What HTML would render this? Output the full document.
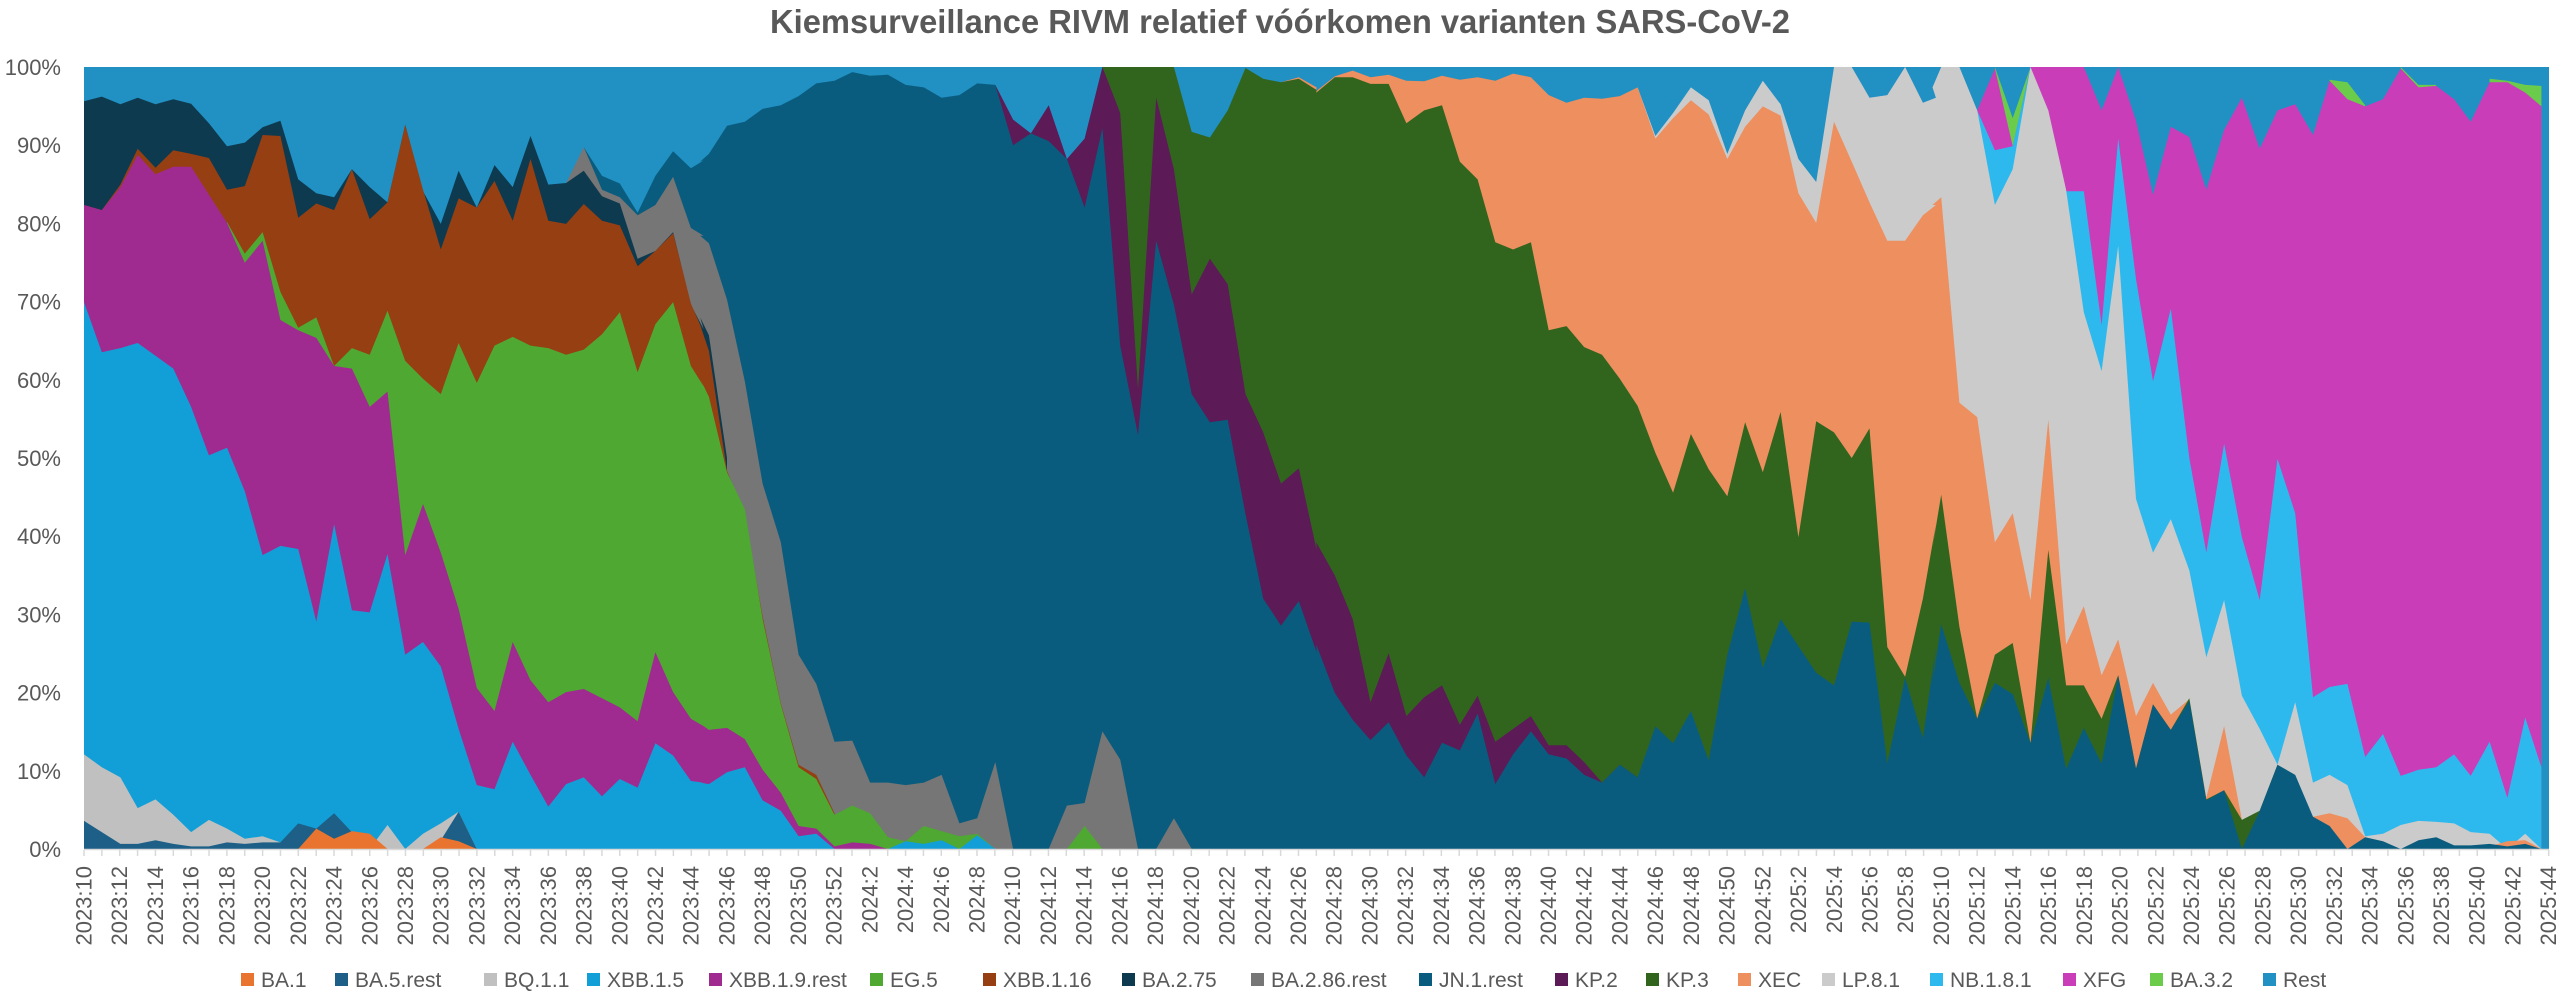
<!DOCTYPE html>
<html><head><meta charset="utf-8">
<style>
html,body{margin:0;padding:0;background:#fff;}
body{width:2560px;height:993px;overflow:hidden;}
svg{display:block;}
text{font-family:"Liberation Sans",sans-serif;fill:#595959;}
</style></head>
<body>
<svg id="c" width="2560" height="993" viewBox="0 0 2560 993" xmlns="http://www.w3.org/2000/svg">
<rect x="0" y="0" width="2560" height="993" fill="#fff"/>
<text x="1280" y="33" text-anchor="middle" font-size="33" font-weight="bold" textLength="1020" lengthAdjust="spacingAndGlyphs">Kiemsurveillance RIVM relatief vóórkomen varianten SARS-CoV-2</text>
<rect x="84" y="67" width="2465" height="782" fill="#2190c3"/>
<g id="areas"></g>
<line x1="84" y1="849.5" x2="2549" y2="849.5" stroke="#d9d9d9" stroke-width="1.5"/>
<g id="ticks"></g>
<g id="ylab"></g>
<g id="xlab"></g>
<g id="legend"></g>
</svg>
<script>
var X0=84,STEP=17.86,YB=849,YS=7.82;
var OFF={3:0,4:34.5,5:69.0,6:103.5};
function conv(s){
  var pts=[],p=3;
  s.trim().split(/\s+/).forEach(function(t){
    if(t[0]=='P'){p=+t.slice(1);return;}
    var a=t.split(',');var i=OFF[p]+(+a[0])/45.2;var pct=(1545-(+a[1]))/15.3;
    if(pct<0)pct=0;if(pct>100)pct=100;
    pts.push([X0+i*STEP,YB-pct*YS]);
  });
  return pts;
}
var layers=[
["#6bcb4a","P6 158,15 203,115 248,15;P6 1005,40 1050,45 1095,90;P6 1185,15 1230,50 1275,50;P6 1410,38 1455,42 1500,50 1541,52"],
["#c93db8","P6 113,100 158,18 203,170 248,15 293,15 338,15 383,15 428,100 470,15 515,120 558,265 603,132 650,152 693,255 738,138 783,75 828,175 873,100 918,88 963,148 1005,42 1050,78 1095,92 1140,78 1185,18 1230,55 1275,52 1320,78 1362,122 1410,45 1455,45 1500,65 1541,92"],
["#2eb9ee","P6 113,100 158,178 203,170 248,15 293,258 338,258 383,258 428,520 470,155 515,430 558,630 603,488 650,780 693,965 738,752 783,935 828,1058 873,782 918,888 963,1248 1005,1228 1050,1222 1095,1365 1140,1320 1185,1402 1230,1390 1275,1385 1320,1360 1362,1402 1410,1335 1455,1445 1500,1288 1541,1385"],
["#cbcbcb","P5 813,55 858,150 903,105 948,55 993,80 1040,185 1085,100 1130,42 1175,88 1220,195 1265,240 1310,15 1355,15 1400,75 1445,70 1490,15 1535,85 1568,75 P6 0,55 22,15 68,15 113,100 158,285 203,215 248,15 293,100 338,255 383,495 428,610 470,365 515,860 558,965 603,900 650,1000 693,1170 738,1058 783,1245 828,1310 873,1380 918,1258 963,1415 1005,1400 1050,1420 1095,1520 1140,1515 1185,1498 1230,1490 1275,1492 1320,1495 1362,1512 1410,1515 1455,1545 1500,1515 1541,1545"],
["#ed8f5f","P4 1470,45 1515,35 1560,55 P5 0,62 47,33 92,22 137,35 183,30 228,42 273,43 318,32 363,40 408,35 453,42 498,28 543,35 588,70 633,85 678,75 723,77 768,72 813,55 858,155 903,115 948,80 993,108 1040,195 1085,132 1130,92 1175,110 1220,262 1265,320 1310,122 1355,200 1400,280 1445,355 1490,355 1535,305 1568,285 P6 0,285 22,270 68,672 113,700 158,945 203,888 248,1058 293,705 338,1145 383,1070 428,1205 470,1135 515,1285 558,1220 603,1282 650,1252 693,1445 738,1305 783,1488 828,1545;P6 918,1545 963,1482 1005,1475 1050,1485 1095,1522;P6 1410,1540 1455,1530 1500,1528 1541,1545"],
["#31651e","P4 1018,15 1063,15 1108,15 1154,15 1199,15 1244,142 1290,153 1335,100 1380,17 1425,38 1470,45 1515,38 1560,60 P5 0,65 47,35 92,35 137,48 183,48 228,125 273,100 318,90 363,200 408,235 453,358 498,372 543,358 588,530 633,522 678,563 723,578 768,625 813,678 858,770 903,848 948,733 993,802 1040,855 1085,710 1130,808 1175,690 1220,935 1265,708 1310,730 1355,780 1400,722 1445,1150 1490,1208 1535,1055 1568,910 P6 0,955 22,852 68,1110 113,1290 158,1165 203,1142 248,1338 293,960 338,1225 383,1225 428,1290 470,1205 515,1388 558,1262 603,1312 650,1250 693,1448 738,1430 783,1488 828,1470 873,1380"],
["#5c1a56","P4 747,50 792,118 837,145 882,90 928,195 973,155 1018,15 1063,105 1108,645 1154,75 1199,215 1244,460 1290,390 1335,440 1380,655 1425,730 1470,830 1515,800 1560,960 P5 0,945 47,1010 92,1095 137,1258 183,1162 228,1285 273,1248 318,1225 363,1302 408,1245 453,1335 498,1310 543,1285 588,1342 633,1342 678,1375 723,1415 768,1380 813,1405"],
["#0a5c7e","P3 1265,172 1311,228 1356,243 1401,300 1446,228 1491,180 1536,213 1568,198 P4 0,200 22,185 68,130 113,122 158,97 204,90 249,72 294,47 340,42 385,25 430,32 475,30 520,50 566,55 611,75 656,70 701,47 747,50 792,168 837,145 882,160 928,195 973,290 1018,135 1063,560 1108,735 1154,355 1199,480 1244,655 1290,710 1335,705 1380,890 1425,1055 1470,1108 1515,1060 1560,1160 P5 0,1145 47,1240 92,1292 137,1332 183,1297 228,1362 273,1405 318,1337 363,1352 408,1280 453,1418 498,1360 543,1315 588,1360 633,1368 678,1400 723,1415 768,1380 813,1405 858,1305 903,1338 948,1275 993,1372 1040,1165 1085,1035 1130,1190 1175,1095 1220,1148 1265,1200 1310,1225 1355,1100 1400,1102 1445,1378 1490,1210 1535,1328 1568,1150 P6 0,1220 22,1105 68,1220 113,1290 158,1220 203,1242 248,1338 293,1210 338,1388 383,1308 428,1378 470,1205 515,1388 558,1262 603,1312 650,1255 693,1450 738,1430 783,1545 828,1470 873,1380 918,1400 963,1482 1005,1500 1050,1545 1095,1522 1140,1530 1185,1545 1230,1528 1275,1522 1320,1538 1362,1538 1410,1535 1455,1540 1500,1535 1541,1545"],
["#767676","P3 1220,242 1265,172 1311,255 1356,270 1401,305 1446,285 1491,230 1536,330 1568,345 P4 0,345 22,360 68,470 113,630 158,830 204,945 249,1165 294,1222 340,1335 385,1333 430,1415 475,1415 520,1420 566,1415 611,1400 656,1495 701,1485 747,1375 792,1545;P4 882,1545 928,1460 973,1455 1018,1315 1063,1370 1108,1545;P4 1154,1545 1199,1485 1244,1545"],
["#0e3a4f","P3 0,82 45,73 92,88 136,75 181,88 226,78 271,87 316,125 362,170 407,163 452,133 497,120 542,235 588,262 633,270 678,215 723,250 768,280 813,128 858,258 903,322 948,218 994,290 1039,207 1085,250 1130,150 1175,245 1220,242 1265,218 1311,268 1356,282 1401,390 1446,375 1491,338 1536,480 1568,528 P4 0,505 22,540 68,780"],
["#963f12","P3 0,285 45,295 92,245 136,175 181,212 226,178 271,185 316,193 362,255 407,248 452,148 497,150 542,310 588,282 633,295 678,215 723,313 768,280 813,128 858,255 903,372 948,272 994,290 1039,238 1085,316 1130,195 1175,316 1220,322 1265,283 1311,316 1356,325 1401,405 1446,375 1491,340 1536,478 1568,535 P4 0,520 22,570 68,805 113,890 158,1090 204,1260 249,1380 294,1400 340,1475"],
["#4ea832","P3 362,318 407,380 452,338 497,455 542,525 588,505 633,600 678,565 723,578 768,492 813,590 858,625 903,655 948,555 994,633 1039,560 1085,543 1130,560 1175,565 1220,578 1265,568 1311,538 1356,495 1401,612 1446,518 1491,475 1536,600 1568,640 P4 0,625 22,660 68,808 113,880 158,1095 204,1262 249,1385 294,1408 340,1478 385,1460 430,1475 475,1522 520,1530 566,1500 611,1510 656,1520 701,1515 747,1545;P4 928,1545 973,1500 1018,1545"],
["#a02b90","P3 0,285 45,295 92,250 136,187 181,225 226,210 271,210 316,265 362,320 407,398 452,355 497,510 542,530 588,545 633,600 678,605 723,680 768,650 813,970 858,870 903,965 948,1075 994,1230 1039,1275 1085,1140 1130,1215 1175,1258 1220,1238 1265,1232 1311,1250 1356,1268 1401,1295 1446,1160 1491,1238 1536,1290 1568,1305 P4 0,1300 22,1312 68,1308 113,1330 158,1390 204,1435 249,1500 294,1505 340,1540 385,1532 430,1535 475,1545"],
["#129fd7","P3 0,475 45,573 92,565 136,555 181,580 226,605 271,680 316,775 362,760 407,845 452,970 497,952 542,958 588,1100 633,910 678,1078 723,1082 768,968 813,1165 858,1140 903,1188 948,1310 994,1420 1039,1428 1085,1335 1130,1400 1175,1462 1220,1418 1265,1405 1311,1442 1356,1408 1401,1425 1446,1338 1491,1362 1536,1412 1568,1415 P4 0,1415 22,1418 68,1395 113,1385 158,1450 204,1470 249,1520 294,1515 340,1545 385,1545 430,1545 475,1545 520,1530 566,1535 611,1528 656,1545 701,1518 747,1545"],
["#c0c0c0","P3 0,1360 45,1385 92,1405 136,1465 181,1448 226,1478 271,1512 316,1488 362,1505 407,1525 452,1520 497,1532 542,1530 588,1545;P3 723,1545 768,1498 813,1545 858,1515 903,1495 948,1472 994,1545"],
["#1d5f86","P3 0,1490 45,1512 92,1535 136,1535 181,1528 226,1535 271,1540 316,1540 362,1532 407,1535 452,1532 497,1532 542,1495 588,1505 633,1475 678,1512 723,1518 768,1545;P3 858,1545 903,1528 948,1472 994,1545"],
["#e8742f","P3 452,1545 542,1545 588,1505 633,1525 678,1510 723,1515 768,1545;P3 858,1545 903,1522 948,1530 994,1545"]
];
var NS="http://www.w3.org/2000/svg";
var g=document.getElementById('areas');
layers.forEach(function(L){
  L[1].split(';').forEach(function(seg){
    var pts=conv(seg);
    if(!pts.length)return;
    var d='M'+pts[0][0].toFixed(1)+','+YB+' ';
    pts.forEach(function(p){d+='L'+p[0].toFixed(1)+','+p[1].toFixed(1)+' ';});
    d+='L'+pts[pts.length-1][0].toFixed(1)+','+YB+' Z';
    var e=document.createElementNS(NS,'path');
    e.setAttribute('d',d);e.setAttribute('fill',L[0]);
    g.appendChild(e);
  });
});
// ticks & x labels
var tg=document.getElementById('ticks'),xg=document.getElementById('xlab');
var labs=[];
for(var w=10;w<=52;w++)labs.push('2023:'+w);
for(var w=1;w<=52;w++)labs.push('2024:'+w);
for(var w=1;w<=44;w++)labs.push('2025:'+w);
for(var i=0;i<labs.length;i++){
  var x=X0+i*STEP;
  var l=document.createElementNS(NS,'line');
  l.setAttribute('x1',x);l.setAttribute('x2',x);l.setAttribute('y1',850);l.setAttribute('y2',856);
  l.setAttribute('stroke','#d9d9d9');l.setAttribute('stroke-width','1.5');tg.appendChild(l);
  if(i%2==0){
    var t=document.createElementNS(NS,'text');
    t.setAttribute('transform','translate('+(x+7.5).toFixed(1)+',866) rotate(-90)');
    t.setAttribute('text-anchor','end');t.setAttribute('font-size','22');
    t.textContent=labs[i];xg.appendChild(t);
  }
}
var yg=document.getElementById('ylab');
for(var p=0;p<=100;p+=10){
  var t=document.createElementNS(NS,'text');
  t.setAttribute('x',61);t.setAttribute('y',(YB-p*YS+8).toFixed(1));
  t.setAttribute('text-anchor','end');t.setAttribute('font-size','22');
  t.textContent=p+'%';yg.appendChild(t);
}
var leg=[["BA.1","#e8742f",241],["BA.5.rest","#1d5f86",335],["BQ.1.1","#c0c0c0",484],["XBB.1.5","#129fd7",587],["XBB.1.9.rest","#a02b90",709],["EG.5","#4ea832",870],["XBB.1.16","#963f12",983],["BA.2.75","#0e3a4f",1122],["BA.2.86.rest","#767676",1251],["JN.1.rest","#0a5c7e",1419],["KP.2","#5c1a56",1555],["KP.3","#31651e",1646],["XEC","#ed8f5f",1738],["LP.8.1","#cbcbcb",1822],["NB.1.8.1","#2eb9ee",1930],["XFG","#c93db8",2063],["BA.3.2","#6bcb4a",2150],["Rest","#2190c3",2263]];
var lg=document.getElementById('legend');
leg.forEach(function(it){
  var r=document.createElementNS(NS,'rect');
  r.setAttribute('x',it[2]);r.setAttribute('y',973);r.setAttribute('width',13);r.setAttribute('height',13);r.setAttribute('fill',it[1]);lg.appendChild(r);
  var t=document.createElementNS(NS,'text');
  t.setAttribute('x',it[2]+20);t.setAttribute('y',987);t.setAttribute('font-size','21');
  t.textContent=it[0];lg.appendChild(t);
});
</script>
</body></html>
